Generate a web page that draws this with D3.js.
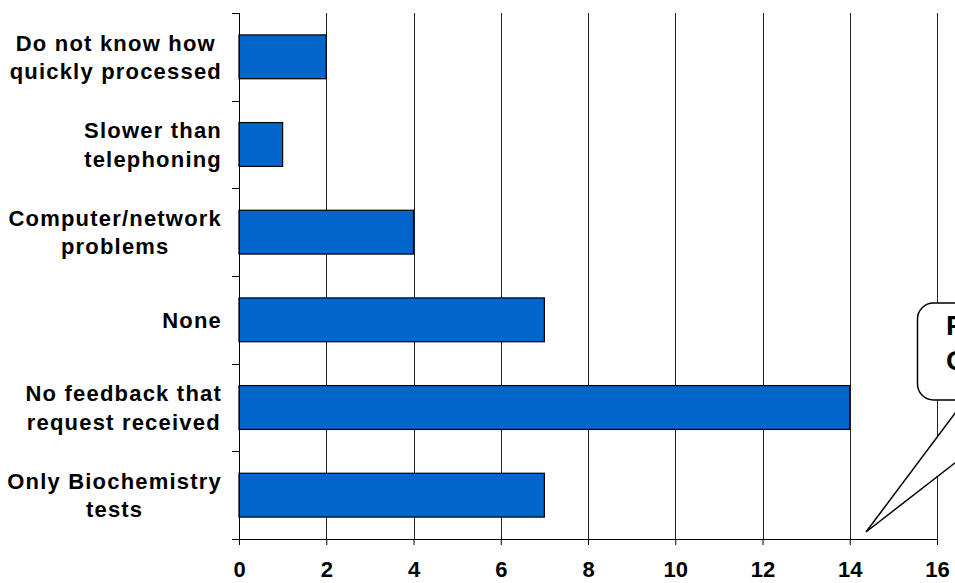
<!DOCTYPE html>
<html>
<head>
<meta charset="utf-8">
<script src="https://cdn.jsdelivr.net/npm/d3@7"></script>
<style>
  html, body { margin: 0; padding: 0; background: #fff; }
  svg { display: block; }
  text { font-family: "Liberation Sans", Arial, sans-serif; font-weight: bold; fill: #000; }
</style>
</head>
<body>
<svg id="chart" width="955" height="583"></svg>
<script>
// ---- data ----
const categories = [
  "Do not know how quickly processed",
  "Slower than telephoning",
  "Computer/network problems",
  "None",
  "No feedback that request received",
  "Only Biochemistry tests"
];
const categoryLines = [
  ["Do not know how", "quickly processed"],
  ["Slower than", "telephoning"],
  ["Computer/network", "problems"],
  ["None"],
  ["No feedback that", "request received"],
  ["Only Biochemistry", "tests"]
];
const values = [2, 1, 4, 7, 14, 7];
const xTicks = [0, 2, 4, 6, 8, 10, 12, 14, 16];
const calloutLines = ["P", "O"];

// ---- layout ----
const plotLeft = 239, plotRight = 937, plotTop = 13, plotBottom = 539;

const svg = d3.select("#chart");

const x = d3.scaleLinear().domain([0, 16]).range([plotLeft, plotRight]);
const y = d3.scaleBand().domain(categories).range([plotTop, plotBottom])
  .paddingInner(0.5).paddingOuter(0.25);

// gridlines
svg.append("g").selectAll("line")
  .data(xTicks.filter(d => d > 0))
  .join("line")
  .attr("x1", d => Math.round(x(d)) + 0.5).attr("x2", d => Math.round(x(d)) + 0.5)
  .attr("y1", plotTop).attr("y2", plotBottom)
  .attr("stroke", "#222").attr("stroke-width", 1);

// bars
svg.append("g").selectAll("rect")
  .data(categories)
  .join("rect")
  .attr("x", x(0))
  .attr("y", d => y(d))
  .attr("width", (d, i) => x(values[i]) - x(0))
  .attr("height", y.bandwidth())
  .attr("fill", "#0066CC")
  .attr("stroke", "#000").attr("stroke-width", 1.2);

// x axis
const xAxis = d3.axisBottom(x).tickValues(xTicks).tickSize(6).tickSizeOuter(0);
const gx = svg.append("g").attr("transform", `translate(0,${plotBottom})`).call(xAxis);
gx.select(".domain").attr("stroke", "#000").attr("stroke-width", 1);
gx.selectAll(".tick line").attr("stroke", "#000").attr("stroke-width", 1);
gx.selectAll(".tick text")
  .attr("dy", null)
  .attr("y", 38)
  .attr("fill", "#000")
  .style("font-size", "22px")
  .style("font-family", '"Liberation Sans", Arial, sans-serif')
  .style("font-weight", "bold");

// y axis (boundary ticks)
const step = y.step();
const boundaries = categories.map(c => y(c) - step * 0.25).concat([plotBottom]);
svg.append("line")
  .attr("x1", plotLeft + 0.5).attr("x2", plotLeft + 0.5).attr("y1", plotTop).attr("y2", plotBottom)
  .attr("stroke", "#000").attr("stroke-width", 1);
svg.append("g").selectAll("line")
  .data(boundaries)
  .join("line")
  .attr("x1", plotLeft - 7).attr("x2", plotLeft)
  .attr("y1", d => Math.round(d) + 0.5).attr("y2", d => Math.round(d) + 0.5)
  .attr("stroke", "#000").attr("stroke-width", 1);

// category labels
const labelRight = 222;
categories.forEach((c, i) => {
  const lines = categoryLines[i];
  const cy = y(c) + y.bandwidth() / 2;
  const g = svg.append("g");
  const lh = 28.5;
  const firstBase = cy + 8 - (lines.length - 1) * lh / 2;
  lines.forEach((ln, j) => g.append("text")
    .attr("x", 0)
    .attr("y", firstBase + j * lh)
    .attr("text-anchor", "middle")
    .style("font-size", "22px")
    .style("letter-spacing", "1.2px")
    .text(ln));
  const bb = g.node().getBBox();
  g.attr("transform", `translate(${labelRight - (bb.x + bb.width)},0)`);
});

// callout
const callout = svg.append("g");
callout.append("rect")
  .attr("x", 917.5).attr("y", 303).attr("width", 300).attr("height", 97)
  .attr("rx", 16).attr("ry", 16)
  .attr("fill", "#fff").attr("stroke", "#000").attr("stroke-width", 1.5);
callout.append("path")
  .attr("d", "M866,532 L965,400 L1036,400 Z")
  .attr("fill", "#fff").attr("stroke", "#000").attr("stroke-width", 1.5)
  .attr("stroke-linejoin", "miter");
calloutLines.forEach((t, j) => {
  callout.append("text")
    .attr("x", 946).attr("y", 335 + j * 35)
    .style("font-size", "28px")
    .text(t);
});
</script>
</body>
</html>
